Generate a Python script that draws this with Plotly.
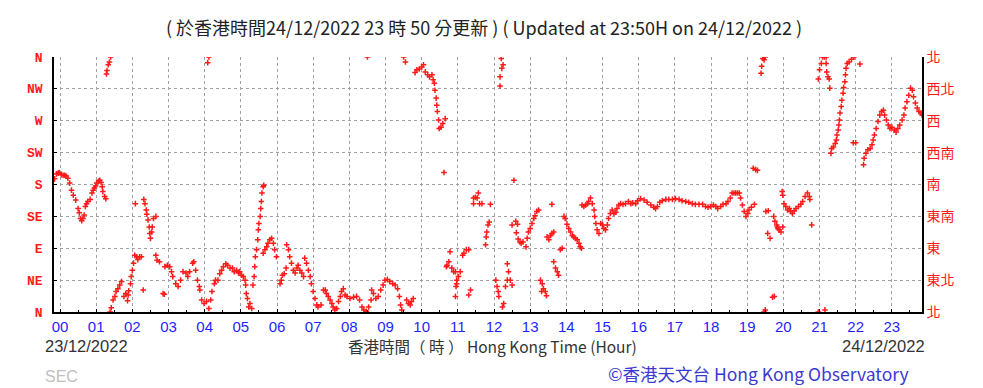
import plotly.graph_objects as go

# ---- data: minutes after 00:00 on 24/12/2022 (negative = previous evening) ----
minutes = [
    -9, -6, -3, -1, 2, 5, 8, 10, 13, 16,
    19, 22, 26, 30, 32, 34, 36, 38, 40, 42,
    44, 46, 50, 53, 55, 57, 59, 61, 64, 66,
    68, 70, 71, 74, 76,
    77, 78, 80, 82, 84,
    83, 85, 88, 91, 93, 96, 99, 102,
    106, 109, 112, 113, 114,
    117, 118, 120, 122, 124,
    125,
    127, 129, 132, 135,
    138,
    139, 141, 143, 144, 146, 148, 149, 150, 152, 153, 155, 159,
    159, 161, 165,
    171, 173,
    174, 178, 182, 185, 187, 192, 196, 200, 204, 209,
    212, 215, 220, 222, 225, 228, 231,
    232, 235, 239, 243,
    245, 247,
    247, 250, 252, 256, 258, 262, 265, 268, 271, 275,
    278, 282, 286, 289, 293, 296, 298, 301, 304, 307,
    308, 309, 311, 313, 315, 318,
    320, 322, 323, 324, 326, 328, 329, 330, 332, 333, 334, 335, 337, 338,
    337, 340, 343, 345, 348, 351, 354, 356, 359,
    365, 367, 369, 372, 375,
    376, 379, 381, 384, 387, 390, 393, 395, 398, 401, 404,
    406, 409, 412, 415, 417, 420, 423, 426, 428, 433,
    437, 440, 442, 445, 448, 451, 453, 456, 459, 462, 465, 467, 470,
    473, 476, 481, 487, 492, 497, 501, 504, 508, 510,
    512, 516, 517, 520, 524, 528, 532, 536, 539, 543,
    547, 552, 556, 560, 563, 565, 567, 570, 573, 575,
    578, 581, 583, 586, 589, 592, 596, 600, 603, 606,
    610, 613, 617, 619, 621, 622, 624, 625, 626, 628,
    629, 632, 635, 637, 639, 641, 642, 645, 647, 650,
    653, 656, 656, 657, 658, 658, 661, 664, 668, 670,
    674, 678, 678, 681, 686, 686, 689, 692, 694, 696,
    700, 706, 707, 708, 710, 712, 714, 723, 725, 727,
    728, 730, 730, 732, 733, 734, 735, 736, 739, 742,
    742, 744, 747, 750, 750, 753, 756, 757, 759, 760,
    763, 765, 768, 773, 775, 777, 780, 783, 786, 788,
    791, 794, 797, 799, 800, 802, 805, 807, 808, 811,
    814, 816, 816, 819, 819, 822, 825, 827, 830, 833,
    836, 838, 841, 844, 847, 850, 852, 855, 858, 861,
    863, 865, 866, 869, 872, 875, 877, 880, 883, 886,
    887, 889, 891, 894, 897, 900, 902, 905, 908, 910,
    913, 916, 919, 922, 924, 927, 930, 934, 938, 943,
    947, 950, 955, 958, 963, 969, 974, 980, 985, 988,
    991, 995, 999, 1005, 1010, 1016, 1021, 1027, 1032, 1038,
    1043, 1049, 1054, 1060, 1066, 1071, 1075, 1079, 1084, 1088,
    1091, 1096, 1100, 1105, 1108, 1112, 1115, 1118, 1121, 1124,
    1127, 1129, 1132, 1135, 1138, 1141, 1143, 1147, 1150, 1152,
    1154, 1157, 1163, 1164, 1166, 1168, 1168, 1170, 1170, 1171,
    1174, 1175, 1178, 1182, 1184, 1185, 1186, 1189, 1190, 1191,
    1193, 1196, 1198, 1199, 1199, 1201, 1204, 1207, 1210, 1212,
    1215, 1218, 1221, 1225, 1229, 1232, 1236, 1240, 1243, 1244,
    1247, 1258, 1258, 1260, 1263, 1265, 1268, 1269, 1271, 1271,
    1272, 1274, 1276, 1277, 1279, 1280, 1283, 1286, 1288, 1289,
    1291, 1292, 1293, 1294, 1296, 1297, 1299, 1300, 1302, 1303,
    1304, 1306, 1309, 1313, 1317, 1316, 1320, 1327, 1333, 1334,
    1337, 1340, 1344, 1347, 1349, 1351, 1354, 1357, 1360, 1363,
    1366, 1368, 1371, 1374, 1377, 1380, 1384, 1387, 1390, 1393,
    1397, 1400, 1402, 1405, 1408, 1411, 1414, 1416, 1419, 1422,
    1425, 1428, 1430,
]

# wind direction in degrees (0/360 = N, 90 = E, 180 = S, 270 = W)
direction = [
    188, 195, 196, 197, 194, 193, 193, 192, 189, 182,
    172, 165, 158, 146, 140, 132, 129, 132, 137, 149,
    153, 156, 159, 168, 172, 175, 178, 182, 185, 186,
    183, 177, 170, 163, 160,
    336, 341, 349, 353, 360,
    0, 6, 17, 22, 29, 33, 38, 43,
    22, 26, 16, 24, 30,
    40, 50, 59, 69, 80,
    153,
    78, 74, 78, 78,
    31,
    159, 153, 144, 138, 130, 120, 111, 104, 113, 120, 132, 135,
    80, 73, 71,
    26, 25,
    64, 66, 64, 57, 50, 40, 36, 45, 57, 55,
    50, 57, 69, 71, 59, 45, 36,
    31, 17, 12, 15,
    352, 360,
    5, 17, 29, 40, 45, 45, 54, 59, 64, 68,
    66, 62, 62, 57, 59, 55, 57, 52, 50, 45,
    38, 26, 19, 7, 12, 5,
    38, 50, 64, 78, 88, 102, 116, 125, 135, 146, 156, 168, 177, 179,
    83, 88, 92, 97, 102, 104, 97, 88, 78,
    40, 45, 52, 54, 62,
    95, 88, 78, 69, 59, 55, 62, 66, 59, 55, 50,
    76, 69, 59, 50, 40, 29, 19, 10, 7, 10,
    31, 31, 26, 22, 17, 12, 7, 3, 5, 15, 22, 29, 33,
    24, 22, 19, 21, 22, 17, 7, 3, 1, 360,
    7, 17, 31, 26, 19, 22, 31, 38, 45, 46,
    43, 40, 38, 33, 22, 10, 3, 360, 353, 17,
    12, 10, 15, 19, 338, 342, 343, 346, 349, 339,
    335, 332, 335, 328, 323, 313, 302, 292, 283, 271,
    259, 261, 266, 197, 273, 64, 66, 71, 85, 62,
    57, 57, 22, 36, 40, 45, 50, 57, 80, 83,
    88, 88, 24, 31, 161, 153, 162, 161, 168, 153,
    153, 95, 106, 113, 123, 127, 152, 45, 36, 29,
    22, 319, 332, 358, 344, 7, 349, 12, 36, 45,
    68, 57, 45, 38, 123, 186, 128, 112, 124, 103,
    99, 97, 99, 92, 104, 113, 118, 125, 132, 136,
    142, 144, 45, 29, 40, 33, 29, 23, 106, 102,
    108, 111, 152, 113, 71, 62, 57, 52, 88, 90,
    135, 132, 124, 118, 113, 108, 106, 104, 102, 97,
    92, 90, 151, 149, 151, 153, 156, 161, 153, 144,
    135, 125, 116, 111, 125, 123, 118, 116, 123, 132,
    139, 144, 139, 141, 146, 151, 153, 152, 153, 156,
    153, 154, 153, 157, 160, 158, 155, 151, 148, 146,
    149, 155, 157, 159, 159, 159, 160, 159, 157, 156,
    155, 153, 152, 152, 152, 149, 148, 149, 151, 149,
    146, 149, 152, 153, 156, 161, 168, 168, 168, 168,
    168, 161, 151, 142, 135, 139, 144, 148, 203, 152,
    201, 200, 337, 347, 358, 356, 0, 360, 3, 142,
    111, 143, 104, 21, 135, 22, 128, 123, 120, 118,
    116, 113, 170, 120, 165, 153, 149, 144, 146, 142,
    139, 143, 146, 149, 152, 156, 163, 168, 163, 159,
    123, 0, 329, 342, 351, 360, 360, 3, 360, 351,
    339, 332, 329, 316, 224, 231, 233, 238, 243, 250,
    257, 264, 271, 281, 290, 299, 309, 317, 325, 335,
    344, 351, 353, 357, 360, 239, 239, 350, 208, 217,
    224, 229, 231, 236, 243, 250, 259, 269, 278, 283,
    285, 278, 271, 264, 259, 261, 257, 254, 259, 264,
    271, 278, 288, 297, 306, 316, 313, 304, 295, 288,
    283, 281, 278,
]

hour_labels = ["%02d" % h for h in range(24)]
dir_labels_en = ["N", "NE", "E", "SE", "S", "SW", "W", "NW", "N"]
dir_labels_zh = ["北", "東北", "東", "東南", "南", "西南", "西", "西北", "北"]
dir_values = [0, 45, 90, 135, 180, 225, 270, 315, 360]

title_text = "( 於香港時間24/12/2022 23 時 50 分更新 ) ( Updated at 23:50H on 24/12/2022 )"
axis_title = "香港時間（ 時 ） Hong Kong Time (Hour)"
date_start = "23/12/2022"
date_end = "24/12/2022"
credit = "©香港天文台 Hong Kong Observatory"

# ---- layout geometry (page pixels; the page body adds an 8px offset) ----
OFF = 8
PAGE_W, PAGE_H = 983, 388
W, H = PAGE_W - OFF, PAGE_H - OFF
PL, PR, PT, PB = 54, 922, 57, 312          # plot box in page pixels
L, T = PL - OFF, PT - OFF
R = W - (PR - OFF)
B = H - (PB - OFF)


def fx(p):
    return (p - PL) / (PR - PL)


def fy(p):
    return (PB - p) / (PB - PT)


fig = go.Figure()
fig.add_trace(go.Scatter(
    x=minutes, y=direction, mode="markers",
    marker=dict(symbol="cross-thin", size=4, color="#ff1a1a",
                line=dict(width=1.5, color="#ff1a1a")),
    showlegend=False, hoverinfo="x+y",
))
fig.add_trace(go.Scatter(x=[None], y=[None], yaxis="y2", showlegend=False,
                         hoverinfo="skip"))

grid = dict(showgrid=True, gridcolor="#a0a0a0", griddash="dot", gridwidth=1)

fig.update_layout(
    width=W, height=H,
    margin=dict(l=L, r=R, t=T, b=B, pad=0),
    paper_bgcolor="white", plot_bgcolor="white",
    xaxis=dict(
        range=[-10, 1430], tickmode="array",
        tickvals=[60 * h for h in range(24)], ticktext=hour_labels,
        tickfont=dict(family="Liberation Sans", size=15, color="#1f1fff"),
        showline=True, linecolor="black", linewidth=1.5,
        ticks="inside", ticklen=3, tickcolor="black",
        minor=dict(tickmode="array", tickvals=[60 * h + 30 for h in range(24)],
                   ticks="inside", ticklen=2, tickcolor="black", showgrid=False),
        zeroline=False, **grid,
    ),
    yaxis=dict(
        range=[0, 360], tickmode="array", tickvals=dir_values,
        ticktext=dir_labels_en,
        tickfont=dict(family="Liberation Mono", size=13, color="#ff1a1a",
                      weight="bold"),
        showline=True, linecolor="black", linewidth=1.5,
        ticks="inside", ticklen=3, tickcolor="black",
        ticklabelstandoff=7,
        zeroline=False, **grid,
    ),
    yaxis2=dict(
        range=[0, 360], overlaying="y", side="right", tickmode="array",
        tickvals=dir_values, ticktext=dir_labels_zh,
        tickfont=dict(family="Noto Sans CJK TC", size=14, color="#ff1a1a"),
        showline=True, linecolor="black", linewidth=1.5,
        ticks="", showgrid=False, zeroline=False,
    ),
)

ann = [
    dict(text=title_text, x=fx(484), y=fy(27), xanchor="center",
         font=dict(family="Noto Sans CJK TC", size=18, color="#222222")),
    dict(text=date_start, x=fx(43), y=fy(346), xanchor="left",
         font=dict(family="Liberation Sans", size=16.5, color="#333333")),
    dict(text=axis_title, x=fx(493), y=fy(346), xanchor="center",
         font=dict(family="Noto Sans CJK TC", size=15.5, color="#333333")),
    dict(text=date_end, x=fx(927), y=fy(346), xanchor="right",
         font=dict(family="Liberation Sans", size=16.5, color="#333333")),
    dict(text="SEC", x=fx(43), y=fy(376), xanchor="left",
         font=dict(family="Liberation Sans", size=16, color="#c0c0c0")),
    dict(text=credit, x=fx(758), y=fy(373), xanchor="center",
         font=dict(family="Noto Sans CJK TC", size=17.5, color="#3a3ad0")),
]
for a in ann:
    a.update(xref="paper", yref="paper", yanchor="middle", showarrow=False)
fig.update_layout(annotations=ann)

fig.write_html("out.html")
